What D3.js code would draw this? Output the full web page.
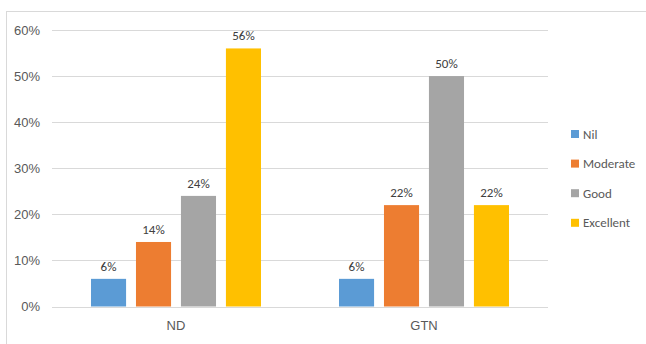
<!DOCTYPE html>
<html>
<head>
<meta charset="utf-8">
<script src="https://cdn.jsdelivr.net/npm/d3@7"></script>
<style>
  html, body { margin: 0; padding: 0; background: #fff; }
  svg { display: block; font-family: Calibri, Carlito, "Open Sans", "Liberation Sans", sans-serif; }
</style>
</head>
<body>
<svg id="chart" width="646" height="344"></svg>
<script>
// Outcome categories and response levels
const groups = ["ND", "GTN"];
const series = ["Nil", "Moderate", "Good", "Excellent"];
const colors = ["#5b9bd5", "#ed7d31", "#a5a5a5", "#ffc000"];
// Percentages per series, in group order (ND, GTN)
const nil = [6, 6];
const moderate = [14, 22];
const good = [24, 50];
const excellent = [56, 22];
const yTicks = [0, 10, 20, 30, 40, 50, 60];

const values = [nil, moderate, good, excellent];
const rows = groups.map((g, gi) => ({
  group: g,
  items: series.map((s, si) => ({ key: s, value: values[si][gi], color: colors[si] }))
}));

const svg = d3.select("#chart");
const margin = { left: 52, right: 98, top: 30, bottom: 37.5 };
const W = 646, H = 344;

// Chart area frame
svg.append("rect")
  .attr("x", 6.5).attr("y", 11.5)
  .attr("width", W + 10).attr("height", H + 10)
  .attr("fill", "#fff").attr("stroke", "#d9d9d9").attr("stroke-width", 1);

const x0 = d3.scaleBand().domain(groups)
  .range([margin.left, W - margin.right]).paddingInner(0).paddingOuter(0);
const y = d3.scaleLinear().domain([0, 60]).range([H - margin.bottom, margin.top]);

const bandInner = 39; // space between band edge and first bar
const x1 = d3.scaleBand().domain(series)
  .range([bandInner, x0.bandwidth() - bandInner]).paddingInner(0.22);

// Gridlines
svg.append("g")
  .selectAll("line").data(yTicks).join("line")
  .attr("x1", margin.left).attr("x2", W - margin.right)
  .attr("y1", d => Math.round(y(d)) + 0.5).attr("y2", d => Math.round(y(d)) + 0.5)
  .attr("stroke", "#d9d9d9").attr("stroke-width", 1);

// Y axis labels
const yAxis = d3.axisLeft(y).tickValues(yTicks).tickFormat(d => d + "%").tickSize(0).tickPadding(12);
const ya = svg.append("g").attr("transform", `translate(${margin.left},0)`).call(yAxis);
ya.select(".domain").remove();
ya.selectAll("text").attr("fill", "#595959").style("font-size", "13px");

// X axis labels
const xAxis = d3.axisBottom(x0).tickSize(0).tickPadding(14);
const xa = svg.append("g").attr("transform", `translate(0,${H - margin.bottom})`).call(xAxis);
xa.select(".domain").remove();
xa.selectAll("text").attr("fill", "#595959").style("font-size", "13px");

// Bars and value labels
const g = svg.append("g").selectAll("g").data(rows).join("g")
  .attr("transform", d => `translate(${x0(d.group)},0)`);

g.selectAll("rect").data(d => d.items).join("rect")
  .attr("x", d => x1(d.key)).attr("width", x1.bandwidth())
  .attr("y", d => y(d.value)).attr("height", d => y(0) - y(d.value))
  .attr("fill", d => d.color);

g.selectAll("text.val").data(d => d.items).join("text")
  .attr("class", "val")
  .attr("x", d => x1(d.key) + x1.bandwidth() / 2)
  .attr("y", d => y(d.value) - 8)
  .attr("text-anchor", "middle")
  .attr("fill", "#404040").style("font-size", "13px")
  .text(d => d.value + "%");

// Legend
const lg = svg.append("g").attr("transform", "translate(571,134)");
const li = lg.selectAll("g").data(series).join("g")
  .attr("transform", (d, i) => `translate(0,${i * 29.6})`);
li.append("rect").attr("x", 0).attr("y", -4).attr("width", 8).attr("height", 8)
  .attr("fill", (d, i) => colors[i]);
li.append("text").attr("x", 12).attr("y", 0).attr("dy", "0.35em")
  .attr("fill", "#595959").style("font-size", "13px").text(d => d);
</script>
</body>
</html>
